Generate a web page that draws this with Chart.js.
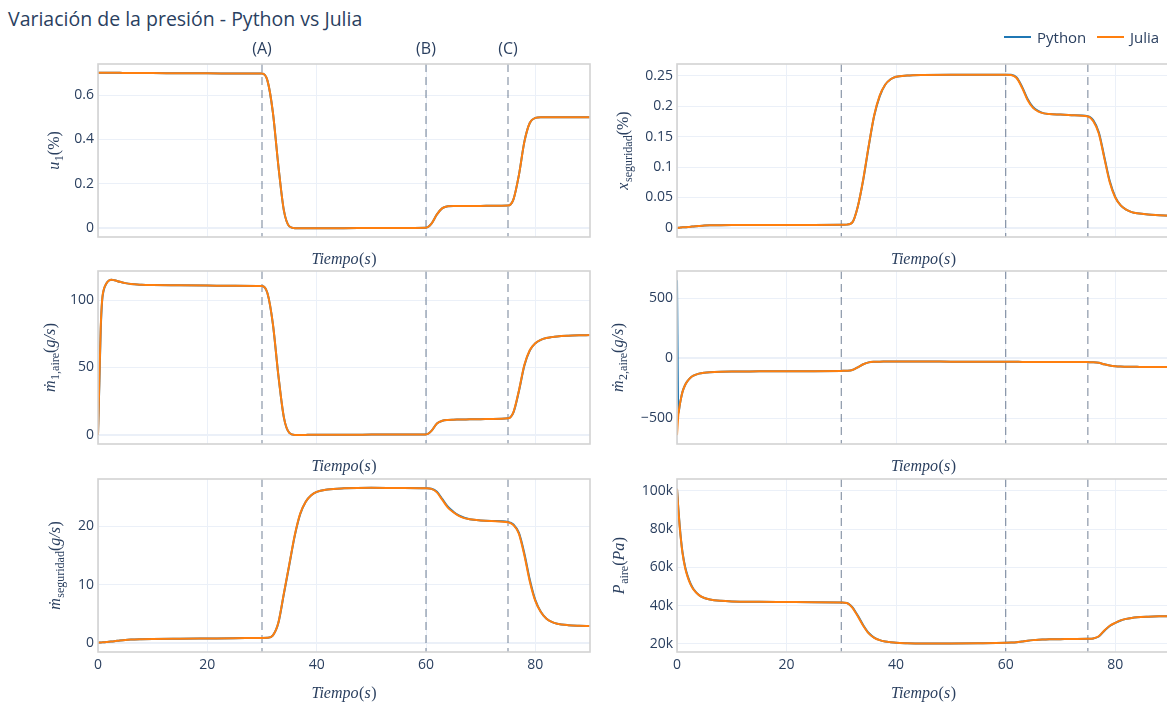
<!DOCTYPE html>
<html>
<head>
<meta charset="utf-8">
<script src="https://cdn.jsdelivr.net/npm/chart.js@4.4.0/dist/chart.umd.min.js"></script>
<style>
  html, body { margin: 0; padding: 0; background: #fff; }
  body { width: 1167px; height: 704px; position: relative; overflow: hidden; font-family: "Open Sans", sans-serif; color: #2a3f5f; }
  canvas { position: absolute; }
  .txt { position: absolute; z-index: 2; white-space: nowrap; }
  #title { left: 8px; top: 5px; font-size: 19.5px; }
  .note { font-size: 16px; transform: translateX(-50%); top: 37px; }
  .leg { display: flex; align-items: center; font-size: 15px; top: 27px; height: 20px; }
  .leg span.swatch { display: inline-block; width: 27px; height: 2px; margin-right: 6px; }
</style>
</head>
<body>
<div id="title" class="txt">Variación de la presión - Python vs Julia</div>
<script>
// tiempo de simulación (s), compartido por todas las series
const tiempo = [0, 0.25, 0.5, 0.75, 1, 1.5, 2, 2.5, 3, 4, 5, 6, 8, 10, 15, 20, 25, 30, 31, 32, 33, 34, 35, 36, 37, 38, 39, 40, 42, 45, 50, 55, 60, 61, 62, 63, 64, 65, 66, 67, 68, 70, 72, 75, 76, 77, 78, 79, 80, 81, 82, 83, 84, 86, 88, 90]

const eventTimes = [30, 60, 75]
const eventLabels = ['(A)', '(B)', '(C)']
const seriesNames = ['Python', 'Julia']
const seriesColors = ['#1f77b4', '#ff7f0e']

// u1 (%)
const u1Julia = [0.700, 0.700, 0.700, 0.700, 0.700, 0.700, 0.700, 0.700, 0.700, 0.700, 0.699, 0.699, 0.699, 0.699, 0.698, 0.698, 0.697, 0.697, 0.665, 0.520, 0.280, 0.080, 0.008, 0.000, 0.000, 0.000, 0.000, 0.000, 0.000, 0.000, 0.001, 0.001, 0.002, 0.020, 0.062, 0.090, 0.099, 0.100, 0.100, 0.100, 0.100, 0.100, 0.101, 0.102, 0.130, 0.240, 0.390, 0.475, 0.497, 0.500, 0.500, 0.500, 0.500, 0.500, 0.500, 0.500]
const u1Python = [0.700, 0.700, 0.700, 0.700, 0.700, 0.700, 0.700, 0.700, 0.700, 0.700, 0.699, 0.699, 0.699, 0.699, 0.698, 0.698, 0.697, 0.697, 0.665, 0.520, 0.280, 0.080, 0.008, 0.000, 0.000, 0.000, 0.000, 0.000, 0.000, 0.000, 0.001, 0.001, 0.002, 0.020, 0.062, 0.090, 0.099, 0.100, 0.100, 0.100, 0.100, 0.100, 0.101, 0.102, 0.130, 0.240, 0.390, 0.475, 0.497, 0.500, 0.500, 0.500, 0.500, 0.500, 0.500, 0.500]

// x seguridad (%)
const xSegJulia = [0.0000, 0.0002, 0.0005, 0.0008, 0.0010, 0.0013, 0.0016, 0.0020, 0.0025, 0.0033, 0.0040, 0.0044, 0.0046, 0.0047, 0.0048, 0.0049, 0.0050, 0.0052, 0.0055, 0.009, 0.035, 0.080, 0.135, 0.185, 0.217, 0.235, 0.244, 0.248, 0.250, 0.251, 0.2515, 0.2515, 0.2515, 0.251, 0.246, 0.230, 0.210, 0.197, 0.191, 0.188, 0.187, 0.186, 0.185, 0.183, 0.175, 0.155, 0.115, 0.075, 0.050, 0.037, 0.030, 0.026, 0.024, 0.022, 0.021, 0.020]
const xSegPython = [0.0000, 0.0002, 0.0005, 0.0008, 0.0010, 0.0013, 0.0016, 0.0020, 0.0025, 0.0033, 0.0040, 0.0044, 0.0046, 0.0047, 0.0048, 0.0049, 0.0050, 0.0052, 0.0055, 0.009, 0.035, 0.079, 0.134, 0.184, 0.216, 0.235, 0.244, 0.248, 0.250, 0.251, 0.2515, 0.2515, 0.2515, 0.2512, 0.2468, 0.2315, 0.2115, 0.198, 0.1915, 0.188, 0.187, 0.186, 0.185, 0.1835, 0.1765, 0.157, 0.117, 0.077, 0.051, 0.037, 0.030, 0.026, 0.024, 0.022, 0.021, 0.020]

// m1 aire (g/s)
const m1Julia = [0, 40, 80, 100, 107, 112, 114.5, 115, 114.6, 113.5, 112.5, 111.8, 111.3, 111.1, 110.9, 110.7, 110.5, 110.3, 105, 82, 44, 13, 1.5, 0, 0, 0.05, 0.1, 0.1, 0.15, 0.2, 0.25, 0.3, 0.35, 3, 8.5, 10.5, 11.1, 11.3, 11.4, 11.5, 11.6, 11.7, 11.9, 12.3, 17, 33, 52, 63, 68, 70.5, 71.8, 72.5, 73, 73.5, 73.8, 74]
const m1Python = [0, 38, 78, 99, 106.5, 112, 114.5, 115, 114.6, 113.5, 112.5, 111.8, 111.3, 111.1, 110.9, 110.7, 110.5, 110.3, 105, 82, 44, 13, 1.5, 0, 0, 0.05, 0.1, 0.1, 0.15, 0.2, 0.25, 0.3, 0.35, 3, 8.5, 10.5, 11.1, 11.3, 11.4, 11.5, 11.6, 11.7, 11.9, 12.3, 16.7, 32.5, 51.5, 62.7, 68, 70.5, 71.8, 72.5, 73, 73.5, 73.8, 74]

// m2 aire (g/s)
const m2Julia = [-640, -470, -390, -330, -280, -220, -185, -160, -145, -128, -120, -116, -112, -110, -109, -108, -107, -105, -104, -98, -75, -50, -34, -29, -28, -27.5, -27, -27, -27, -27, -28, -28.5, -29, -29, -29.5, -30, -30, -30, -30.5, -30.5, -31, -31, -31.5, -32, -33, -38, -50, -60, -66, -69, -70, -71, -71.5, -72, -72, -72]
const m2Python = [650, -460, -390, -330, -280, -220, -185, -160, -145, -128, -120, -116, -112, -110, -109, -108, -107, -105, -104, -98, -75, -50, -34, -29, -28, -27.5, -27, -27, -27, -27, -28, -28.5, -29, -29, -29.5, -30, -30, -30, -30.5, -30.5, -31, -31, -31.5, -32, -33, -38, -50, -60, -66, -69, -70, -71, -71.5, -72, -72, -72]

// m seguridad (g/s)
const mSegJulia = [0.05, 0.06, 0.08, 0.1, 0.12, 0.16, 0.2, 0.25, 0.3, 0.42, 0.52, 0.58, 0.64, 0.68, 0.73, 0.77, 0.81, 0.86, 0.88, 1.3, 3.5, 8.5, 13.5, 18.5, 22.2, 24.2, 25.3, 25.9, 26.3, 26.5, 26.6, 26.55, 26.5, 26.4, 25.8, 24.5, 23.2, 22.4, 21.8, 21.4, 21.2, 21.0, 20.9, 20.7, 20.2, 18.7, 15.0, 10.5, 7.2, 5.3, 4.2, 3.6, 3.3, 3.05, 2.95, 2.9]
const mSegPython = [0.05, 0.06, 0.08, 0.1, 0.12, 0.16, 0.2, 0.25, 0.3, 0.42, 0.52, 0.58, 0.64, 0.68, 0.73, 0.77, 0.81, 0.86, 0.88, 1.3, 3.45, 8.4, 13.4, 18.4, 22.1, 24.2, 25.3, 25.9, 26.3, 26.5, 26.6, 26.55, 26.5, 26.42, 25.9, 24.65, 23.35, 22.5, 21.85, 21.45, 21.2, 21.0, 20.9, 20.75, 20.3, 18.85, 15.3, 10.8, 7.35, 5.35, 4.2, 3.6, 3.3, 3.05, 2.95, 2.9]

// P aire (Pa)
const pAireJulia = [101000, 90000, 81000, 73500, 67500, 59500, 54500, 51000, 48500, 45500, 44000, 43200, 42500, 42200, 42000, 41900, 41800, 41600, 41400, 39000, 34500, 29500, 25500, 23200, 22000, 21300, 20900, 20600, 20400, 20300, 20300, 20400, 20600, 20700, 20900, 21300, 21700, 22000, 22200, 22300, 22400, 22500, 22600, 22700, 22900, 24000, 27000, 29500, 31000, 32300, 33100, 33600, 33900, 34200, 34400, 34500]
const pAirePython = [101000, 90500, 81500, 74000, 68000, 60000, 55000, 51300, 48700, 45600, 44000, 43200, 42500, 42200, 42000, 41900, 41800, 41600, 41400, 39200, 34800, 29800, 25700, 23300, 22000, 21300, 20900, 20600, 20400, 20300, 20300, 20400, 20600, 20700, 20900, 21300, 21700, 22000, 22200, 22300, 22400, 22500, 22600, 22700, 22900, 23900, 26800, 29400, 30950, 32250, 33100, 33600, 33900, 34200, 34400, 34500]

// ticks
const xTicks = [0, 20, 40, 60, 80]
const u1Ticks = [0, 0.2, 0.4, 0.6]
const u1TickLabels = ['0', '0.2', '0.4', '0.6']
const xSegTicks = [0, 0.05, 0.1, 0.15, 0.2, 0.25]
const xSegTickLabels = ['0', '0.05', '0.1', '0.15', '0.2', '0.25']
const m1Ticks = [0, 50, 100]
const m1TickLabels = ['0', '50', '100']
const m2Ticks = [-500, 0, 500]
const m2TickLabels = ['\u2212500', '0', '500']
const mSegTicks = [0, 10, 20]
const mSegTickLabels = ['0', '10', '20']
const pAireTicks = [20000, 40000, 60000, 80000, 100000]
const pAireTickLabels = ['20k', '40k', '60k', '80k', '100k']

// layout of the 3x2 grid (page pixels)
const cols = [{ left: 98, width: 492 }, { left: 677, width: 493 }]
const rows = [{ top: 64, height: 173 }, { top: 271, height: 173 }, { top: 479, height: 173 }]
const INK = '#2a3f5f'

const panels = [
  { row: 0, col: 0, julia: u1Julia, python: u1Python, min: -0.04, max: 0.74, ticks: u1Ticks, labels: u1TickLabels, titleX: -44,
    yTitle: [{ t: 'u', it: true }, { t: '1', sub: true }, { t: '(%)' }] },
  { row: 0, col: 1, julia: xSegJulia, python: xSegPython, min: -0.0148, max: 0.269, ticks: xSegTicks, labels: xSegTickLabels, titleX: -54,
    yTitle: [{ t: 'x', it: true }, { t: 'seguridad', sub: true }, { t: '(%)' }] },
  { row: 1, col: 0, julia: m1Julia, python: m1Python, min: -6.7, max: 121.5, ticks: m1Ticks, labels: m1TickLabels, titleX: -48,
    yTitle: [{ t: 'ṁ', it: true }, { t: '1,aire', sub: true }, { t: '(' }, { t: 'g/s', it: true }, { t: ')' }] },
  { row: 1, col: 1, julia: m2Julia, python: m2Python, min: -714, max: 727, ticks: m2Ticks, labels: m2TickLabels, titleX: -59,
    yTitle: [{ t: 'ṁ', it: true }, { t: '2,aire', sub: true }, { t: '(' }, { t: 'g/s', it: true }, { t: ')' }] },
  { row: 2, col: 0, julia: mSegJulia, python: mSegPython, min: -1.55, max: 28.1, ticks: mSegTicks, labels: mSegTickLabels, titleX: -43,
    yTitle: [{ t: 'ṁ', it: true }, { t: 'seguridad', sub: true }, { t: '(' }, { t: 'g/s', it: true }, { t: ')' }] },
  { row: 2, col: 1, julia: pAireJulia, python: pAirePython, min: 15800, max: 106100, ticks: pAireTicks, labels: pAireTickLabels, titleX: -58,
    yTitle: [{ t: 'P', it: true }, { t: 'aire', sub: true }, { t: '(' }, { t: 'Pa', it: true }, { t: ')' }] }
]

const xTitle = [{ t: 'Tiempo', it: true }, { t: '(' }, { t: 's', it: true }, { t: ')' }]

// draws a small TeX-like label (italic letters, upright subscripts)
function drawMath(ctx, parts, size, cx, cy, rotate) {
  const subSize = Math.round(size * 0.72)
  const fontOf = p => (p.it ? 'italic ' : '') + (p.sub ? subSize : size) + 'px "Liberation Serif", serif'
  const widths = parts.map(p => { ctx.font = fontOf(p); return ctx.measureText(p.t).width + (p.it ? 0.6 : 0) })
  const total = widths.reduce((a, b) => a + b, 0)
  ctx.save()
  ctx.translate(cx, cy)
  if (rotate) ctx.rotate(-Math.PI / 2)
  ctx.fillStyle = INK
  ctx.textBaseline = 'alphabetic'
  let x = -total / 2
  parts.forEach((p, i) => {
    ctx.font = fontOf(p)
    ctx.fillText(p.t, x, size * 0.33 + (p.sub ? size * 0.25 : 0))
    x += widths[i]
  })
  ctx.restore()
}

const panelDeco = {
  id: 'panelDeco',
  beforeDatasetsDraw(chart) {
    const { ctx, chartArea: a, scales: { x } } = chart
    ctx.save()
    ctx.strokeStyle = 'rgba(42,63,95,0.5)'
    ctx.lineWidth = 1.3
    ctx.setLineDash([8, 5])
    eventTimes.forEach(t => {
      const px = x.getPixelForValue(t)
      ctx.beginPath()
      ctx.moveTo(px, a.top)
      ctx.lineTo(px, a.bottom)
      ctx.stroke()
    })
    ctx.restore()
  },
  afterDatasetsDraw(chart) {
    const { ctx, chartArea: a } = chart
    ctx.save()
    ctx.strokeStyle = '#d3d3d3'
    ctx.lineWidth = 1.6
    ctx.strokeRect(a.left, a.top, a.right - a.left, a.bottom - a.top)
    ctx.restore()
  },
  afterDraw(chart, args, opts) {
    const { ctx, chartArea: a } = chart
    drawMath(ctx, opts.yTitle, 16, a.left + opts.titleX, (a.top + a.bottom) / 2, true)
    drawMath(ctx, xTitle, 16, (a.left + a.right) / 2, a.bottom + opts.xTitleGap, false)
  }
}

const tickFont = { family: 'Open Sans', size: 14 }

function makePanel(p) {
  const g = cols[p.col], r = rows[p.row]
  const padL = 90, padT = 24, padR = 8
  const bottomRow = p.row === rows.length - 1
  const bottom = bottomRow ? 56 : 40
  const canvas = document.createElement('canvas')
  canvas.width = padL + g.width + padR
  canvas.height = padT + r.height + bottom
  canvas.style.left = (g.left - padL) + 'px'
  canvas.style.top = (r.top - padT) + 'px'
  document.body.appendChild(canvas)

  const toPoints = vals => tiempo.map((t, i) => ({ x: t, y: vals[i] }))

  return new Chart(canvas, {
    type: 'line',
    data: {
      datasets: [
        { label: seriesNames[1], data: toPoints(p.julia), borderColor: seriesColors[1], order: 1 },
        { label: seriesNames[0], data: toPoints(p.python), borderColor: seriesColors[0], order: 2 }
      ]
    },
    options: {
      responsive: false,
      animation: false,
      devicePixelRatio: 1,
      layout: { padding: { left: 0, top: padT, right: padR, bottom: 0 } },
      elements: {
        point: { radius: 0 },
        line: { borderWidth: 2, cubicInterpolationMode: 'monotone', fill: false }
      },
      plugins: {
        legend: { display: false },
        tooltip: { enabled: false },
        panelDeco: { yTitle: p.yTitle, titleX: p.titleX, xTitleGap: bottomRow ? 41 : 22 }
      },
      scales: {
        x: {
          type: 'linear', min: 0, max: 90,
          afterFit: s => { s.height = bottom },
          afterBuildTicks: s => { s.ticks = xTicks.map(v => ({ value: v })) },
          ticks: { display: bottomRow, padding: 5, autoSkip: false, maxRotation: 0, font: tickFont, color: INK, callback: v => String(v) },
          grid: { color: '#EBF0F8', drawTicks: false, lineWidth: 1 },
          border: { display: false }
        },
        y: {
          type: 'linear', min: p.min, max: p.max,
          afterFit: s => { s.width = padL },
          afterBuildTicks: s => { s.ticks = p.ticks.map(v => ({ value: v })) },
          ticks: { padding: 4, autoSkip: false, font: tickFont, color: INK, callback: (v, i) => p.labels[i] },
          grid: { color: '#EBF0F8', drawTicks: false, lineWidth: c => (c.tick && c.tick.value === 0 ? 2 : 1) },
          border: { display: false }
        }
      }
    },
    plugins: [panelDeco]
  })
}

const charts = panels.map(makePanel)

// event labels above the first panel, placed through its x scale
const first = charts[0]
const canvasLeft = parseFloat(first.canvas.style.left)
eventTimes.forEach((t, i) => {
  const d = document.createElement('div')
  d.className = 'txt note'
  d.textContent = eventLabels[i]
  d.style.left = (canvasLeft + first.scales.x.getPixelForValue(t)) + 'px'
  document.body.appendChild(d)
})

// legend, top right
const legendX = [1004, 1097]
seriesNames.forEach((name, i) => {
  const d = document.createElement('div')
  d.className = 'txt leg'
  d.style.left = legendX[i] + 'px'
  d.innerHTML = '<span class="swatch" style="background:' + seriesColors[i] + '"></span>' + name
  document.body.appendChild(d)
})
</script>
</body>
</html>
